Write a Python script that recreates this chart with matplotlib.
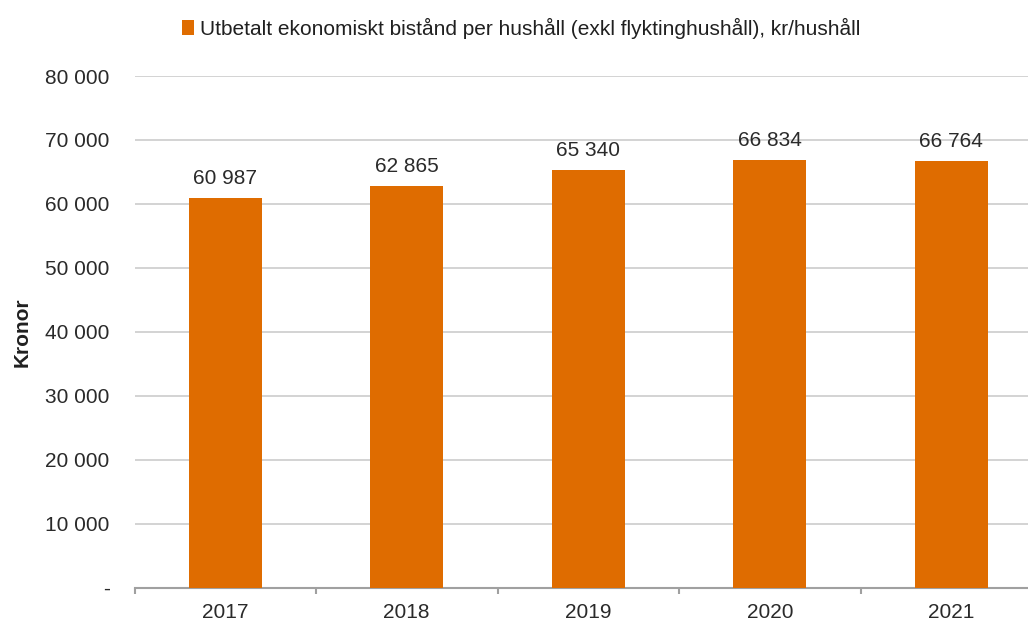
import matplotlib
matplotlib.use("Agg")
import matplotlib.pyplot as plt
from matplotlib.ticker import FixedLocator, FuncFormatter
import numpy as np

years = ["2017", "2018", "2019", "2020", "2021"]
values = [60987, 62865, 65340, 66834, 66764]
series_name = "Utbetalt ekonomiskt bistånd per hushåll (exkl flyktinghushåll), kr/hushåll"
yticks = [0, 10000, 20000, 30000, 40000, 50000, 60000, 70000, 80000]

plt.rcParams['font.family'] = ['Liberation Sans', 'DejaVu Sans']
W, H = 1028, 621
fig = plt.figure(figsize=(W / 100, H / 100), dpi=100)
left_px, cat_px = 134.5, 181.5
bottom_px, top_px = 587.5, 76
ax = fig.add_axes([left_px / W, (H - bottom_px) / H, 5 * cat_px / W, (bottom_px - top_px) / H])

bar_color = '#DF6C00'
text_color = '#2A2A2A'
x = np.arange(len(years))
bars = ax.bar(x, values, width=0.4, color=bar_color, label=series_name, zorder=3)
ax.set_xlim(-0.5, len(years) - 0.5)
ax.set_ylim(0, 80000)

ax.yaxis.set_major_locator(FixedLocator(yticks))
ax.yaxis.set_major_formatter(FuncFormatter(lambda v, p: "-" if v == 0 else f"{int(v):,}".replace(",", " ")))
ax.grid(axis='y', color='#D0D0D0', linewidth=1.3, zorder=0)
ax.set_axisbelow(True)
for s in ['top', 'right', 'left']:
    ax.spines[s].set_visible(False)
ax.spines['bottom'].set_color('#A0A0A0')
ax.spines['bottom'].set_linewidth(1.5)
ax.tick_params(axis='y', length=0, pad=18, labelsize=15, labelcolor=text_color)
ax.set_xticks(x)
ax.set_xticklabels(years)
ax.tick_params(axis='x', which='major', length=0, pad=11, labelsize=15, labelcolor=text_color)
ax.set_xticks(np.arange(-0.5, len(years), 1.0), minor=True)
ax.tick_params(axis='x', which='minor', length=4, width=1.5, color='#A0A0A0', direction='out')

for xi, v in zip(x, values):
    ax.annotate(f"{v:,}".replace(",", " "), (xi, v), xytext=(0, 7), textcoords='offset points',
                ha='center', va='bottom', fontsize=15, color=text_color)

ax.set_ylabel("Kronor", fontsize=15, fontweight='bold', color='#202020')
ax.yaxis.set_label_coords(-(left_px - 22) / (5 * cat_px), 0.5)
ax.yaxis.label.set_va('center')

fig.legend(loc='center', bbox_to_anchor=(521 / W, 1 - 28 / H), frameon=False, fontsize=15,
           handlelength=0.6, handleheight=0.7, handletextpad=0.25, labelcolor='#202020')

fig.savefig("out.png", dpi=100)
